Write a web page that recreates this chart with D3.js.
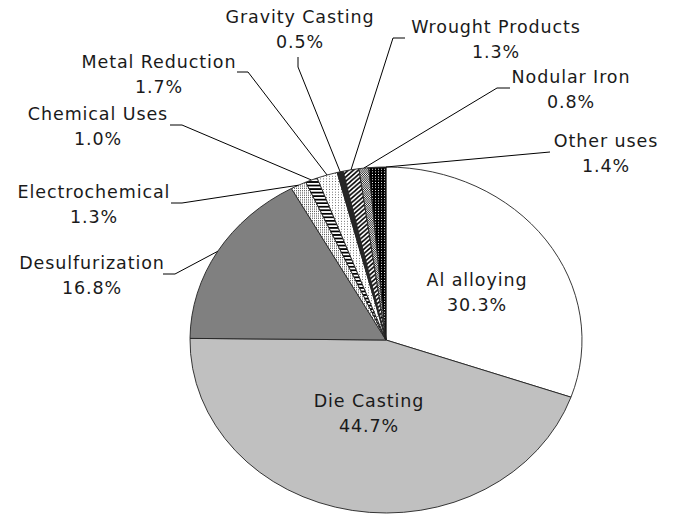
<!DOCTYPE html>
<html>
<head>
<meta charset="utf-8">
<script src="https://cdn.jsdelivr.net/npm/d3@7"></script>
<style>
  html, body { margin: 0; padding: 0; background: #fff; }
  text { font-family: "DejaVu Sans", sans-serif; font-size: 17.5px; fill: #1a1a1a; letter-spacing: 0.9px; }
</style>
</head>
<body>
<script>
// ---- data ----
const categories = ["Al alloying", "Die Casting", "Desulfurization", "Electrochemical", "Chemical Uses",
                    "Metal Reduction", "Gravity Casting", "Wrought Products", "Nodular Iron", "Other uses"];
const values = [30.3, 44.7, 16.8, 1.3, 1.0, 1.7, 0.5, 1.3, 0.8, 1.4];

// ---- layout (positions / styles) ----
const W = 685, H = 532;
const cx = 386, cy = 340, rx = 196, ry = 173;
const fills = ["#ffffff", "#c0c0c0", "#808080", "url(#pElectro)", "url(#pChem)",
               "url(#pMetal)", "#262626", "url(#pWrought)", "url(#pNodular)", "url(#pOther)"];
// label layout: x = text centre, y = first baseline, lead = leader elbow points (from label side)
const labelLayout = [
  { x: 477, y: 286 },
  { x: 369, y: 407 },
  { x: 92,  y: 269, lead: [[163, 274], [175, 274]] },
  { x: 94,  y: 198, lead: [[171, 203], [182, 203]] },
  { x: 98,  y: 120, lead: [[170, 125], [182, 125]] },
  { x: 159, y: 68,  lead: [[237, 72], [248, 72]] },
  { x: 300, y: 23,  lead: [[298, 57], [298, 67]] },
  { x: 496, y: 33,  lead: [[405, 38], [393, 38]] },
  { x: 571, y: 83,  lead: [[510, 88], [497, 88]] },
  { x: 606, y: 147, lead: [[550, 152]], anchor: 1.0 }
];

const svg = d3.select("body").append("svg")
  .attr("width", W).attr("height", H)
  .style("display", "block");
svg.append("rect").attr("width", W).attr("height", H).attr("fill", "#fff");

// ---- patterns ----
const defs = svg.append("defs");
function pat(id, size, bg, draw) {
  const p = defs.append("pattern").attr("id", id).attr("patternUnits", "userSpaceOnUse")
    .attr("width", size).attr("height", size);
  p.append("rect").attr("width", size).attr("height", size).attr("fill", bg);
  draw(p);
}
// Electrochemical: fine dotted grey
pat("pElectro", 2, "#fff", p => {
  p.append("rect").attr("x", 0).attr("y", 0).attr("width", 1).attr("height", 1).attr("fill", "#555");
});
// Chemical uses: horizontal stripes
pat("pChem", 4, "#fff", p => {
  p.append("rect").attr("x", 0).attr("y", 0).attr("width", 4).attr("height", 2).attr("fill", "#000");
});
// Metal reduction: sparse dots
pat("pMetal", 3, "#fff", p => {
  p.append("rect").attr("x", 0).attr("y", 0).attr("width", 1).attr("height", 1).attr("fill", "#666");
});
// Wrought products: diagonal stripes
pat("pWrought", 5, "#fff", p => {
  p.append("path").attr("d", "M-1,6 L6,-1 M-1,1 L1,-1 M4,6 L6,4").attr("stroke", "#000").attr("stroke-width", 1.6);
});
// Nodular iron: checker
pat("pNodular", 2, "#fff", p => {
  p.append("rect").attr("x", 0).attr("y", 0).attr("width", 1).attr("height", 1).attr("fill", "#222");
  p.append("rect").attr("x", 1).attr("y", 1).attr("width", 1).attr("height", 1).attr("fill", "#222");
});
// Other uses: black with white dots
pat("pOther", 3, "#000", p => {
  p.append("rect").attr("x", 1).attr("y", 1).attr("width", 1).attr("height", 1).attr("fill", "#fff");
});

// ---- pie ----
const pie = d3.pie().sort(null).value(d => d)(values);
const arc = d3.arc().innerRadius(0).outerRadius(rx);

const g = svg.append("g").attr("transform", `translate(${cx},${cy}) scale(1,${ry / rx})`);
g.selectAll("path.slice").data(pie).join("path")
  .attr("class", "slice")
  .attr("d", arc)
  .attr("fill", (d, i) => fills[i])
  .attr("stroke", "#222")
  .attr("stroke-width", 0.9)
  .attr("vector-effect", "non-scaling-stroke");

// ---- leaders ----
function edgePoint(d, t) {
  const a = d.startAngle + (d.endAngle - d.startAngle) * t;
  return [cx + rx * Math.sin(a), cy - ry * Math.cos(a)];
}
const line = d3.line();
labelLayout.forEach((L, i) => {
  if (!L.lead) return;
  const pts = L.lead.concat([edgePoint(pie[i], L.anchor == null ? 0.5 : L.anchor)]);
  svg.append("path").attr("d", line(pts)).attr("fill", "none")
    .attr("stroke", "#000").attr("stroke-width", 1);
});

// ---- labels ----
const fmt = d3.format(".1f");
labelLayout.forEach((L, i) => {
  const t = svg.append("text").attr("text-anchor", "middle");
  t.append("tspan").attr("x", L.x).attr("y", L.y).text(categories[i]);
  t.append("tspan").attr("x", L.x).attr("y", L.y + 25).text(fmt(values[i]) + "%");
});
</script>
</body>
</html>
